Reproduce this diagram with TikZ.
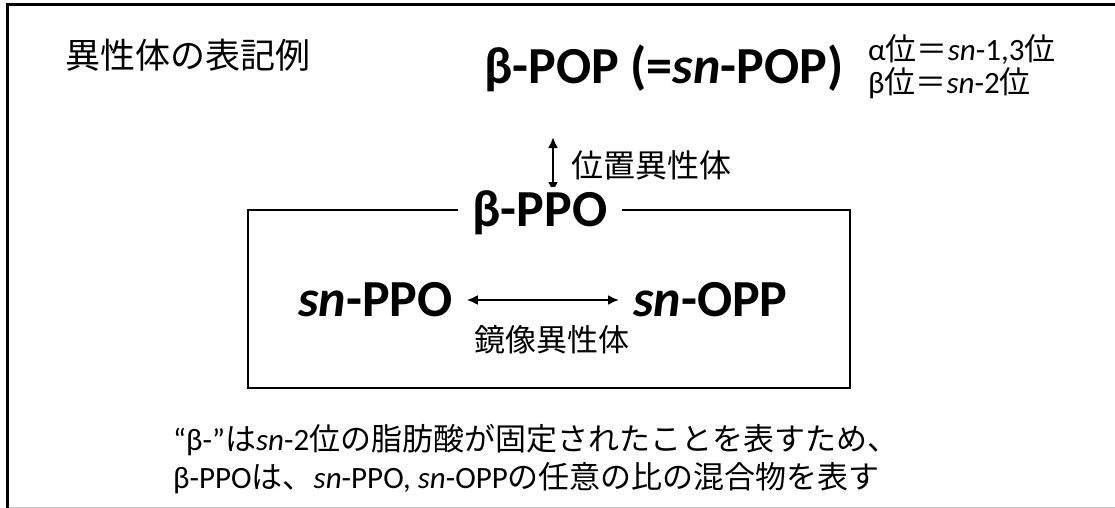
\documentclass[tikz,border=0pt]{standalone}
\usepackage{fontspec}
\setmainfont{Carlito}
\newfontfamily\jp{Noto Sans CJK JP}
\usetikzlibrary{arrows.meta}
\begin{document}
\begin{tikzpicture}[x=1pt,y=-1pt,
  big/.style={font=\fontsize{52}{58}\selectfont\bfseries, inner sep=0pt},
  lbl/.style={font=\fontsize{31}{34}\selectfont, inner sep=0pt},
  note/.style={font=\fontsize{31}{38}\selectfont, inner sep=0pt, align=left},
  biarrow/.style={{Latex[length=11pt,width=10pt]}-{Latex[length=11pt,width=10pt]}},
  frame/.style={line width=3pt},
]
\useasboundingbox (0,0) rectangle (1115,508);
% outer frame (top, left black; bottom light grey)
\draw[frame] (7,508) -- (7,4.5) -- (1115,4.5);
\draw[gray!50, line width=1pt] (8.5,507.5) -- (1115,507.5);

\node[font=\fontsize{35}{38}\selectfont\jp, anchor=west, inner sep=0pt] (title) at (65,55) {異性体の表記例};

\node[big, anchor=west] (pop) at (484,68) {β-POP (=\textit{sn}-POP)};
\node[lbl, anchor=west] (alpha) at (868,50) {α{\jp 位＝}\textit{sn}-1,3{\jp 位}};
\node[lbl, anchor=west] (beta) at (868,83) {β{\jp 位＝}\textit{sn}-2{\jp 位}};

\coordinate (a1) at (553,137);
\coordinate (a2) at (553,193);
\draw[biarrow, line width=2.5pt] (a1) -- (a2);
\node[anchor=west, inner sep=0pt, font=\fontsize{32}{34}\selectfont\jp] (pos) at (571,165) {位置異性体};

% enclosing box
\draw[line width=2pt] (248,210) rectangle (850,388);
\node[big, fill=white, inner xsep=15pt, inner ysep=4pt] (ppo) at (540,213) {β-PPO};

\node[big, anchor=west] (snppo) at (298,300) {\textit{sn}-PPO};
\node[big, anchor=west] (snopp) at (633,300) {\textit{sn}-OPP};
\draw[biarrow, line width=2pt, shorten <=14pt, shorten >=14pt] (snppo.east) -- (snopp.west);
\node[inner sep=0pt, font=\fontsize{31}{34}\selectfont\jp] (mirror) at (552,340) {鏡像異性体};

\node[note, anchor=north west] (note) at (173,424) {“β-”{\jp は}\textit{sn}-2{\jp 位の脂肪酸が固定されたことを表すため、}\\
β-PPO{\jp は、}\textit{sn}-PPO, \textit{sn}-OPP{\jp の任意の比の混合物を表す}};
\end{tikzpicture}
\end{document}
